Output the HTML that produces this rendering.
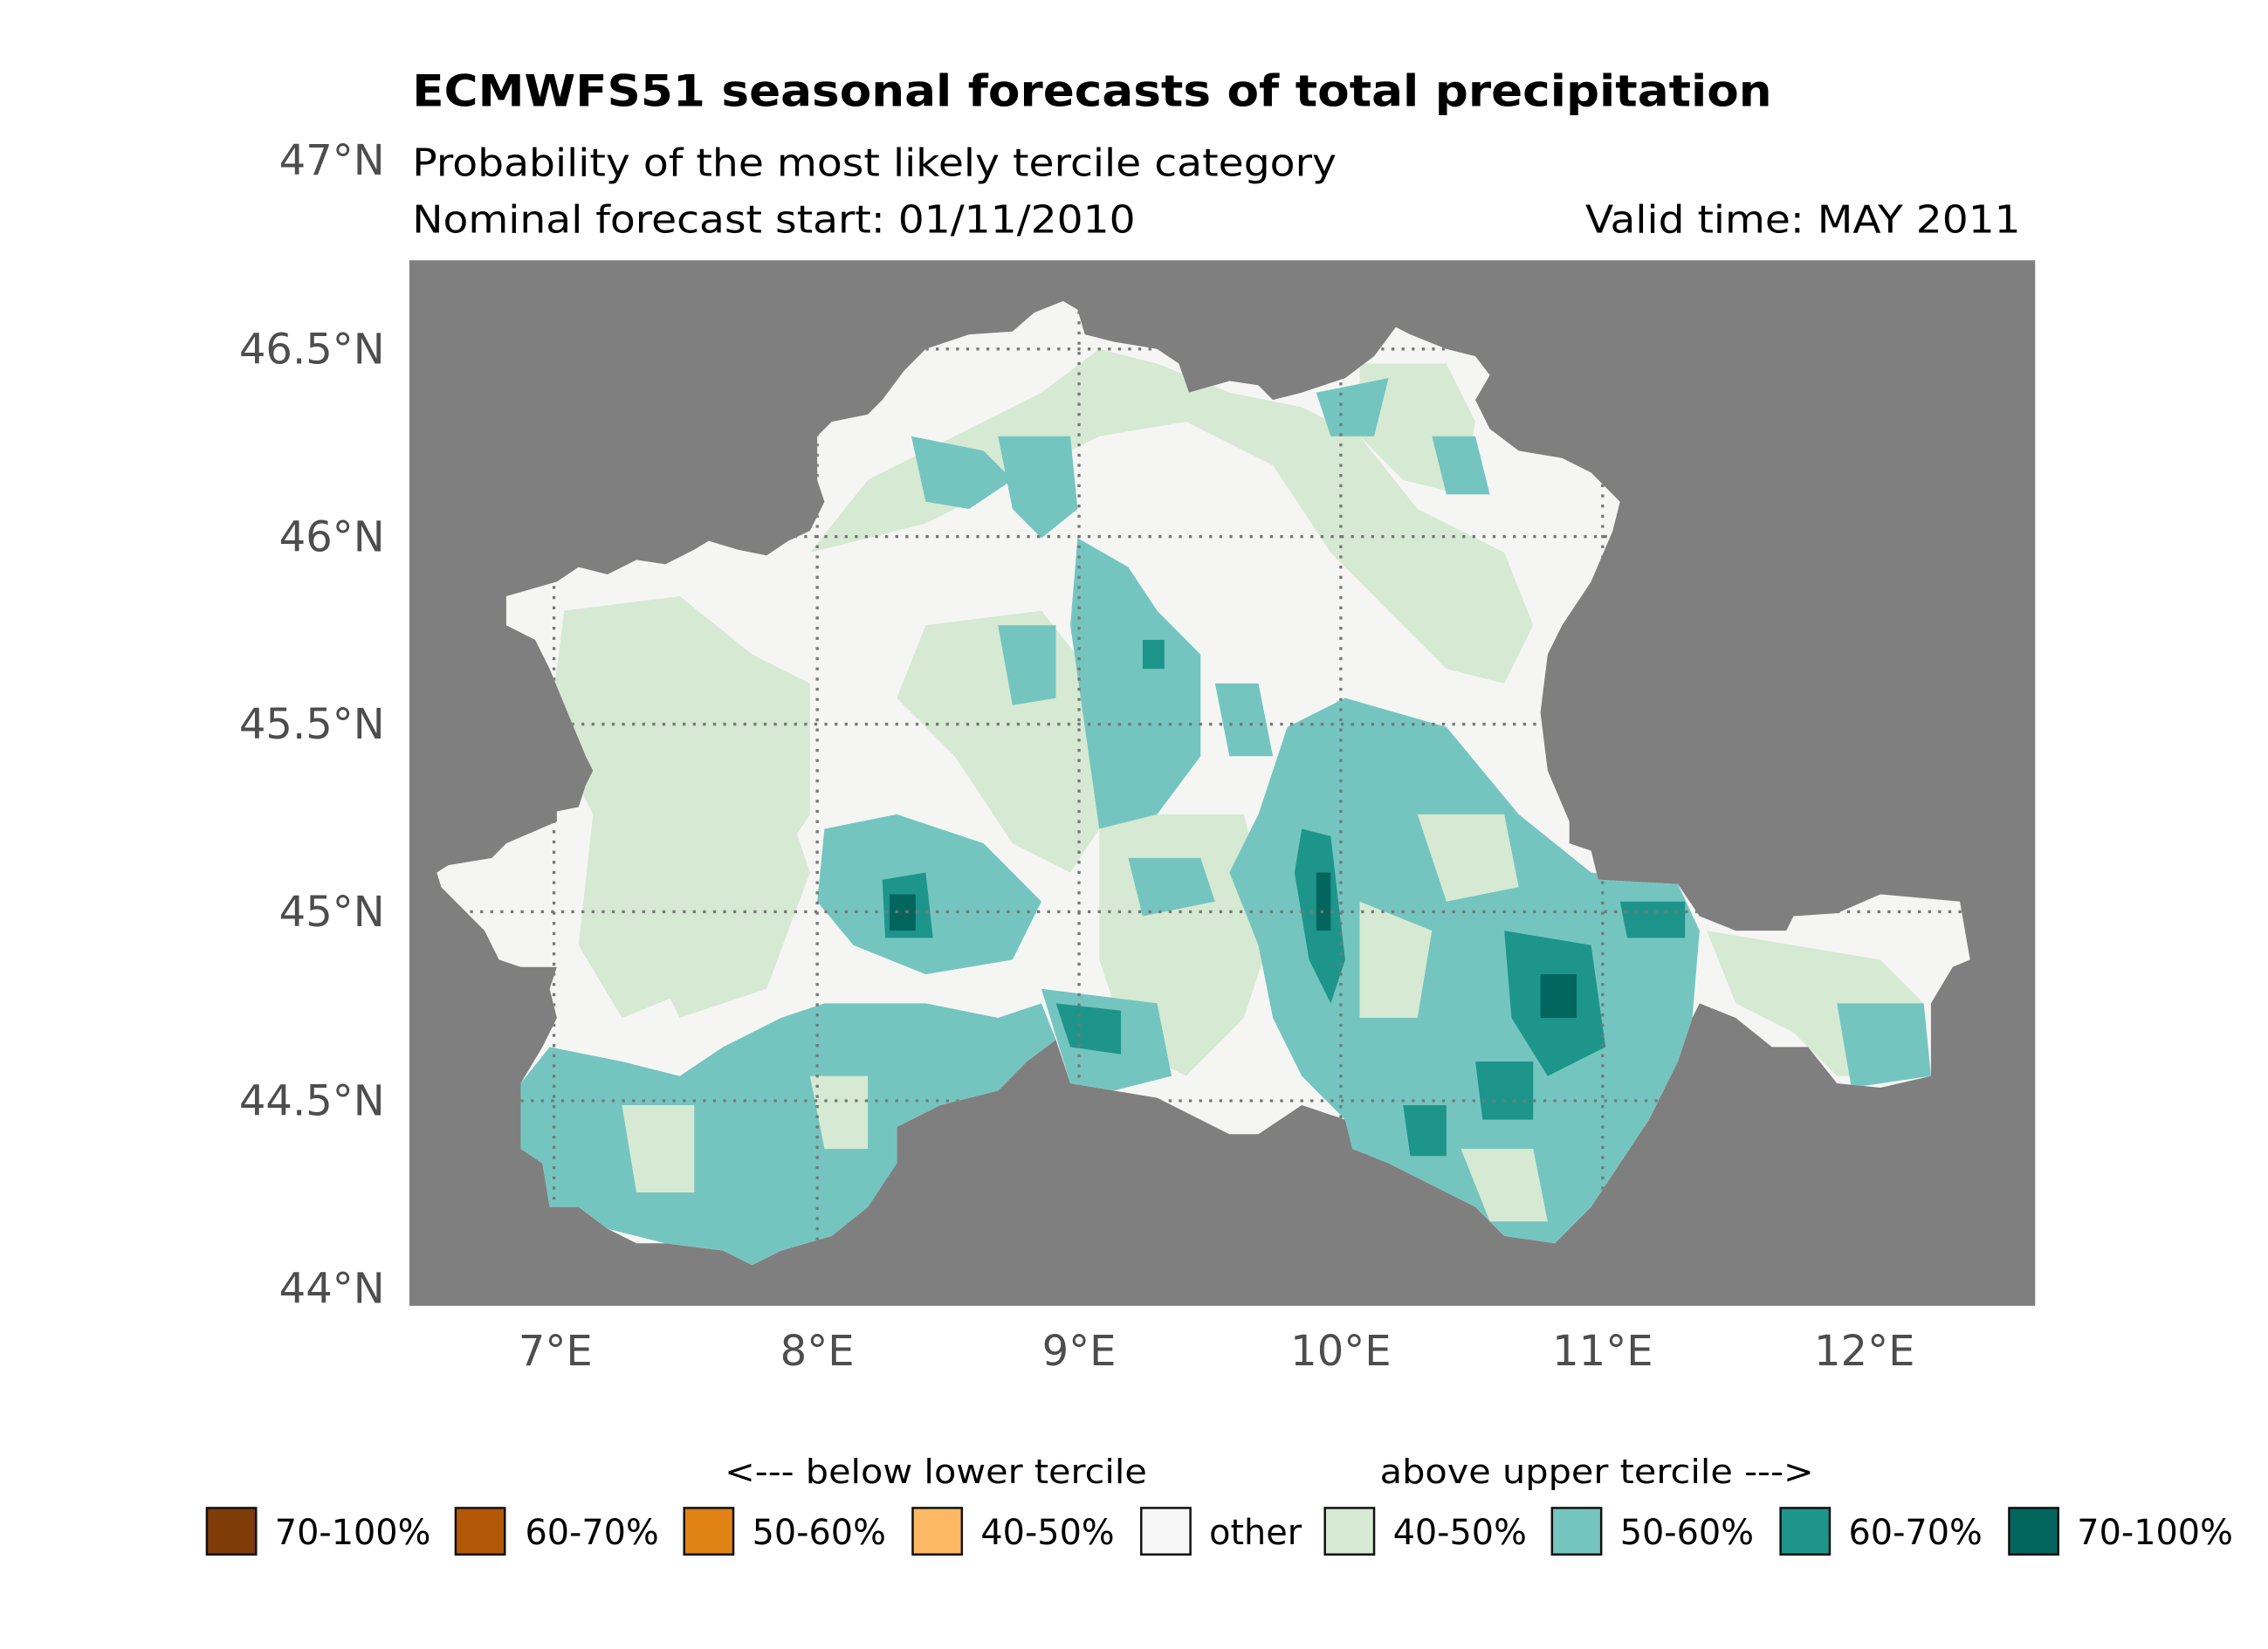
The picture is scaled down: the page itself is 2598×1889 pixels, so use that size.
<!DOCTYPE html>
<html><head><meta charset="utf-8"><style>
html,body{margin:0;padding:0;background:#fff;}
svg{display:block;}
text{font-family:"DejaVu Sans","Liberation Sans",sans-serif;}
</style></head><body>
<svg width="2598" height="1889" viewBox="0 0 1568 1134" preserveAspectRatio="none" xmlns="http://www.w3.org/2000/svg">
<defs>
<clipPath id="land"><polygon id="lp" points="302,600 310,595 340,590 350,580 385,565 385,558 400,555 405,540 410,530 405,520 380,460 370,440 350,430 350,410 385,400 400,390 420,395 440,385 460,388 480,378 490,372 510,378 530,382 545,372 560,365 570,345 565,330 565,300 575,290 600,285 610,275 625,255 640,240 670,230 700,228 715,215 735,207 745,213 750,230 770,235 800,240 815,250 822,270 850,262 870,265 880,275 900,270 930,260 950,245 965,225 975,230 1000,240 1020,245 1030,258 1020,275 1030,295 1050,310 1080,315 1100,325 1120,345 1115,365 1100,400 1080,430 1070,450 1065,490 1070,530 1085,565 1085,580 1100,585 1105,605 1160,608 1175,630 1200,640 1235,640 1240,630 1270,628 1300,615 1355,620 1362,660 1350,665 1335,690 1335,740 1300,748 1270,745 1250,720 1225,720 1200,700 1175,690 1170,700 1160,730 1140,770 1120,800 1100,830 1075,855 1040,850 1020,830 990,815 960,800 935,790 930,770 900,760 870,780 850,780 830,770 800,755 770,750 740,745 730,715 710,730 690,750 650,760 620,775 620,800 600,830 575,850 540,860 520,870 500,860 460,855 440,855 420,845 400,830 380,830 375,800 360,790 360,745 375,720 385,700 380,680 385,665 360,665 345,660 335,640 320,625 305,610"/></clipPath>
</defs>
<rect x="283" y="179" width="1124" height="719" fill="#7f7f7f"/>
<g clip-path="url(#land)">
<rect x="283" y="179" width="1124" height="719" fill="#f5f6f4"/>
<g fill="#d6e9d3">
<polygon points="390,420 470,410 520,450 560,470 560,560 520,620 480,680 430,700 400,650 410,560 380,500"/>
<polygon points="560,380 640,360 700,330 760,300 820,290 880,320 920,380 960,420 1000,460 1040,470 1060,430 1040,380 980,350 940,300 900,280 850,270 800,250 760,240 720,270 660,300 600,330"/>
<polygon points="640,430 720,420 760,470 780,540 740,600 700,580 660,520 620,480"/>
<polygon points="760,560 860,560 880,640 860,700 820,740 780,720 760,660"/>
<polygon points="1180,640 1240,650 1300,660 1330,690 1320,740 1270,740 1240,710 1200,690"/>
<polygon points="460,560 540,540 560,600 530,680 470,700 440,640"/>
<polygon points="940,250 1000,250 1020,290 1010,340 970,330 940,300"/>
</g>
<g fill="#74c5c0">
<polygon points="360,745 380,720 430,730 470,740 500,720 540,700 570,690 600,690 640,690 690,700 720,690 730,715 710,730 690,750 650,760 620,775 620,800 600,830 575,850 540,860 520,870 500,860 460,855 420,845 380,830 375,800 360,790"/>
<polygon points="890,500 930,480 1000,500 1050,560 1100,600 1160,608 1175,640 1170,700 1160,730 1140,770 1120,800 1100,830 1075,855 1040,850 1020,830 990,815 960,800 935,790 930,770 900,740 880,700 870,650 850,600 870,560"/>
<polygon points="570,570 620,560 680,580 720,620 700,660 640,670 590,650 565,620"/>
<polygon points="745,370 780,390 800,420 830,450 830,520 800,560 760,570 750,500 740,430"/>
<polygon points="630,300 680,310 700,330 670,350 640,345"/>
<polygon points="690,300 740,300 745,350 720,370 700,350"/>
<polygon points="690,430 730,430 730,480 700,485"/>
<polygon points="720,680 800,690 810,740 770,750 740,745"/>
<polygon points="1270,690 1330,690 1335,740 1280,748"/>
<polygon points="990,300 1020,300 1030,340 1000,340"/>
<polygon points="910,270 960,260 950,300 920,300"/>
<polygon points="840,470 870,470 880,520 850,520"/>
<polygon points="780,590 830,590 840,620 790,630"/>
</g>
<g fill="#d6e9d3">
<polygon points="980,560 1040,560 1050,610 1000,620"/>
<polygon points="940,620 990,640 980,700 940,700"/>
<polygon points="430,760 480,760 480,820 440,820"/>
<polygon points="1010,790 1060,790 1070,840 1030,840"/>
<polygon points="560,740 600,740 600,790 570,790"/>
</g>
<g fill="#1e958b">
<polygon points="610,605 640,600 645,645 612,645"/>
<polygon points="900,570 920,575 930,660 920,690 905,660 895,600"/>
<polygon points="1040,640 1100,650 1110,720 1070,740 1045,700"/>
<polygon points="970,760 1000,760 1000,795 975,795"/>
<polygon points="1120,620 1165,620 1165,645 1125,645"/>
<polygon points="730,690 775,695 775,725 740,720"/>
<polygon points="1020,730 1060,730 1060,770 1025,770"/>
<polygon points="790,440 805,440 805,460 790,460"/>
</g>
<g fill="#03665e">
<rect x="615" y="615" width="18" height="25"/><rect x="1065" y="670" width="25" height="30"/><rect x="910" y="600" width="10" height="40"/>
</g>
<g stroke="#777" stroke-width="2" stroke-dasharray="2,5" fill="none">
<line x1="283" y1="240" x2="1407" y2="240"/><line x1="283" y1="369" x2="1407" y2="369"/><line x1="283" y1="498" x2="1407" y2="498"/><line x1="283" y1="627" x2="1407" y2="627"/><line x1="283" y1="757" x2="1407" y2="757"/>
<line x1="383" y1="179" x2="383" y2="898"/><line x1="565" y1="179" x2="565" y2="898"/><line x1="746" y1="179" x2="746" y2="898"/><line x1="927" y1="179" x2="927" y2="898"/><line x1="1108" y1="179" x2="1108" y2="898"/>
</g>
</g>
<text x="285" y="73" font-size="30" font-weight="bold" textLength="940" lengthAdjust="spacingAndGlyphs">ECMWFS51 seasonal forecasts of total precipitation</text>
<text x="285" y="121" font-size="26" textLength="639" lengthAdjust="spacingAndGlyphs">Probability of the most likely tercile category</text>
<text x="285" y="160" font-size="26" textLength="500" lengthAdjust="spacingAndGlyphs">Nominal forecast start: 01/11/2010</text>
<text x="1096" y="160" font-size="26" textLength="301" lengthAdjust="spacingAndGlyphs">Valid time: MAY 2011</text>
<g font-size="29" fill="#4d4d4d" text-anchor="end">
<text x="266" y="120">47°N</text><text x="266" y="250">46.5°N</text><text x="266" y="379">46°N</text><text x="266" y="508">45.5°N</text><text x="266" y="637">45°N</text><text x="266" y="767">44.5°N</text><text x="266" y="896">44°N</text>
</g>
<g font-size="29" fill="#4d4d4d" text-anchor="middle">
<text x="384" y="939">7°E</text><text x="565" y="939">8°E</text><text x="746" y="939">9°E</text><text x="927" y="939">10°E</text><text x="1108" y="939">11°E</text><text x="1289" y="939">12°E</text>
</g>
<text x="501" y="1020" font-size="23" textLength="292" lengthAdjust="spacingAndGlyphs">&lt;--- below lower tercile</text>
<text x="954" y="1020" font-size="23" textLength="300" lengthAdjust="spacingAndGlyphs">above upper tercile ---&gt;</text>
<g stroke="#111" stroke-width="1.5">
<rect x="143" y="1037" width="34" height="32" fill="#7f3b08"/>
<rect x="315" y="1037" width="34" height="32" fill="#b35806"/>
<rect x="473" y="1037" width="34" height="32" fill="#e08214"/>
<rect x="631" y="1037" width="34" height="32" fill="#fdb863"/>
<rect x="789" y="1037" width="34" height="32" fill="#f7f7f7"/>
<rect x="916" y="1037" width="34" height="32" fill="#d6e9d3"/>
<rect x="1073" y="1037" width="34" height="32" fill="#74c5c0"/>
<rect x="1231" y="1037" width="34" height="32" fill="#1e958b"/>
<rect x="1389" y="1037" width="34" height="32" fill="#03665e"/>
</g>
<g font-size="24">
<text x="190" y="1062">70-100%</text><text x="363" y="1062">60-70%</text><text x="520" y="1062">50-60%</text><text x="678" y="1062">40-50%</text><text x="836" y="1062">other</text><text x="963" y="1062">40-50%</text><text x="1120" y="1062">50-60%</text><text x="1278" y="1062">60-70%</text><text x="1436" y="1062">70-100%</text>
</g>
</svg>
</body></html>
